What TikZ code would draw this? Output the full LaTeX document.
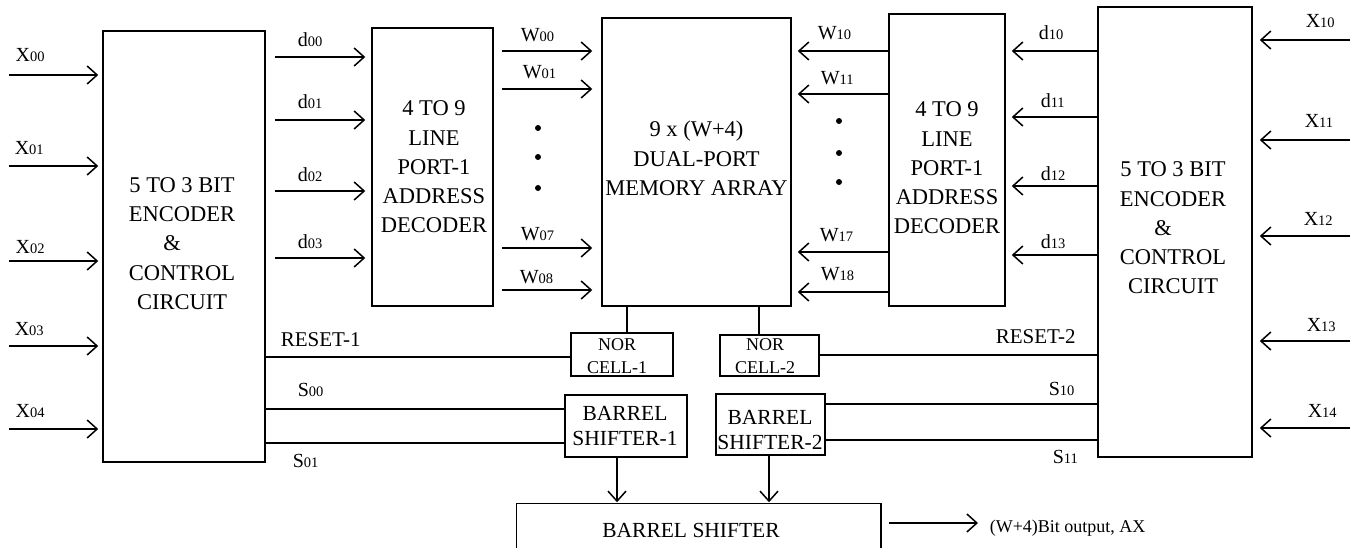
\documentclass[tikz,border=0pt]{standalone}
\usepackage{fontspec}
\setmainfont{Liberation Serif}
\usetikzlibrary{arrows.meta}
% signal name with a small index set on the baseline
\newcommand\sigsub[2]{#1{\fontsize{14.5}{14.5}\selectfont #2}}
\begin{document}
\begin{tikzpicture}[x=1pt,y=-1pt,line width=1.5pt,
  box/.style={draw,rectangle,inner sep=0pt},
  bigtext/.style={font=\fontsize{22.5}{29.25}\selectfont,align=center,inner sep=0pt},
  midtext/.style={font=\fontsize{21.5}{25.5}\selectfont,align=center,inner sep=0pt},
  nortext/.style={font=\fontsize{18}{23}\selectfont,align=center,inner sep=0pt},
  sig/.style={font=\fontsize{20}{20}\selectfont,anchor=base west,inner sep=0pt},
  ctl/.style={font=\fontsize{21}{21}\selectfont,anchor=base west,inner sep=0pt},
  arr/.style={-{Straight Barb[length=10pt,width=18pt]}}]
\useasboundingbox (0,0) rectangle (1356,548);

% ---- blocks ----
\node[box,minimum width=162pt,minimum height=431pt,
  label={[bigtext,xshift=-2pt,yshift=3pt]center:{5 TO 3 BIT\\ENCODER\\\hspace*{-20pt}\&\\CONTROL\\CIRCUIT}}]
  (enc1) at (184,246.5) {};
\node[box,minimum width=121pt,minimum height=278pt,
  label={[bigtext,xshift=1.5pt]center:{4 TO 9\\LINE\\PORT-1\\ADDRESS\\DECODER}}]
  (dec1) at (432.5,167) {};
\node[box,minimum width=189pt,minimum height=288pt,
  label={[bigtext,yshift=3.5pt]center:{9 x (W+4)\\DUAL-PORT\\MEMORY ARRAY}}]
  (mem) at (696.5,162) {};
\node[box,minimum width=116pt,minimum height=292pt,
  label={[bigtext,yshift=-8pt]center:{4 TO 9\\LINE\\PORT-1\\ADDRESS\\DECODER}}]
  (dec2) at (947,160) {};
\node[box,minimum width=154pt,minimum height=450pt,
  label={[bigtext,xshift=-2pt,yshift=4pt]center:{5 TO 3 BIT\\ENCODER\\\hspace*{-20pt}\&\\CONTROL\\CIRCUIT}}]
  (enc2) at (1175,232) {};
\node[box,minimum width=102pt,minimum height=43pt,
  label={[nortext,xshift=-5pt,yshift=-2pt]center:{NOR\\CELL-1}}]
  (nor1) at (622,354.5) {};
\node[box,minimum width=99pt,minimum height=41pt,
  label={[nortext,xshift=-4.5pt,yshift=-1pt]center:{NOR\\CELL-2}}]
  (nor2) at (769.5,355.5) {};
\node[box,minimum width=122pt,minimum height=62pt,
  label={[midtext,xshift=-1pt]center:{BARREL\\SHIFTER-1}}]
  (bs1) at (626,426) {};
\node[box,minimum width=109pt,minimum height=61pt,
  label={[midtext,xshift=-0.5pt,yshift=-5.5pt]center:{BARREL\\SHIFTER-2}}]
  (bs2) at (770.5,424.5) {};
\node[minimum width=363pt,minimum height=44pt,inner sep=0pt,
  label={[midtext,xshift=-7.5pt,yshift=-4pt]center:{BARREL SHIFTER}}]
  (bs) at (698.5,526) {};
\draw (bs.south west) -- (bs.north west) -- (bs.north east) -- (bs.south east);

% ---- free ends of the input and output arrows ----
\foreach \i/\yy in {0/75,1/166,2/261,3/346,4/429}
  \coordinate (xin\i) at (9,\yy);
\foreach \i/\yy in {0/40,1/140,2/236,3/341,4/428}
  \coordinate (xrin\i) at (1350,\yy);
\coordinate (outtip) at (978,523);

% ---- connectors, left half ----
\foreach \i in {0,...,4}
  \draw[arr,shorten >=4pt] (xin\i) -- (enc1.west |- xin\i);
\foreach \yy in {57,120,191,258}
  \draw[arr,shorten <=9pt,shorten >=6pt] (enc1.east |- 0,\yy) -- (dec1.west |- 0,\yy);
\foreach \yy in {51,89,248,290}
  \draw[arr,shorten <=8pt,shorten >=9pt] (dec1.east |- 0,\yy) -- (mem.west |- 0,\yy);
\draw (enc1.east |- 0,357) -- (nor1.west |- 0,357);
\draw (enc1.east |- 0,409) -- (bs1.west |- 0,409);
\draw (enc1.east |- 0,443) -- (bs1.west |- 0,443);
\draw (mem.south -| 627,0) -- (nor1.north -| 627,0);
\draw[arr,shorten >=1pt] (bs1.south -| 617,0) -- (bs.north -| 617,0);

% ---- connectors, right half ----
\foreach \i in {0,...,4}
  \draw[arr,shorten >=7pt] (xrin\i) -- (enc2.east |- xrin\i);
\foreach \yy in {51,117,186,255}
  \draw[arr,shorten >=6pt] (enc2.west |- 0,\yy) -- (dec2.east |- 0,\yy);
\foreach \yy in {51,94,252,292}
  \draw[arr,shorten >=6pt] (dec2.west |- 0,\yy) -- (mem.east |- 0,\yy);
\draw (nor2.east |- 0,355) -- (enc2.west |- 0,355);
\draw (bs2.east |- 0,404) -- (enc2.west |- 0,404);
\draw (bs2.east |- 0,440) -- (enc2.west |- 0,440);
\draw (mem.south -| 759,0) -- (nor2.north -| 759,0);
\draw[arr,shorten >=1pt] (bs2.south -| 769,0) -- (bs.north -| 769,0);

% ---- output ----
\draw[arr,shorten <=8pt] (bs.east |- outtip) -- (outtip);
\node[font=\fontsize{18}{18}\selectfont,anchor=base west,inner sep=0pt] (outlbl) at (989,532) {(W+4)Bit output, AX};

% ---- omitted word lines ----
\foreach \yy in {128,157,188} \fill (538,\yy) circle[radius=3pt];
\foreach \yy in {121,153,182} \fill (839,\yy) circle[radius=3pt];

% ---- signal names ----
\node[sig] (lx00) at (15,62)  {\sigsub{X}{00}};
\node[sig] (lx01) at (14,155) {\sigsub{X}{01}};
\node[sig] (lx02) at (15,253) {\sigsub{X}{02}};
\node[sig] (lx03) at (14,335) {\sigsub{X}{03}};
\node[sig] (lx04) at (15,417) {\sigsub{X}{04}};
\node[sig] (ld00) at (297,47)  {\sigsub{d}{00}};
\node[sig] (ld01) at (297,109) {\sigsub{d}{01}};
\node[sig] (ld02) at (297,182) {\sigsub{d}{02}};
\node[sig] (ld03) at (297,248) {\sigsub{d}{03}};
\node[ctl] (lreset1) at (280,346) {RESET-1};
\node[sig] (ls00) at (297,396) {\sigsub{S}{00}};
\node[sig] (ls01) at (292,467) {\sigsub{S}{01}};
\node[sig] (lw00) at (520,42)  {\sigsub{W}{00}};
\node[sig] (lw01) at (522,79)  {\sigsub{W}{01}};
\node[sig] (lw07) at (520,240) {\sigsub{W}{07}};
\node[sig] (lw08) at (519,283) {\sigsub{W}{08}};
\node[sig] (lw10) at (817,40)  {\sigsub{W}{10}};
\node[sig] (lw11) at (820,85)  {\sigsub{W}{11}};
\node[sig] (lw17) at (819,241) {\sigsub{W}{17}};
\node[sig] (lw18) at (820,280) {\sigsub{W}{18}};
\node[sig] (ld10) at (1038,40)  {\sigsub{d}{10}};
\node[sig] (ld11) at (1040,108) {\sigsub{d}{11}};
\node[sig] (ld12) at (1040,180) {\sigsub{d}{12}};
\node[sig] (ld13) at (1040,248) {\sigsub{d}{13}};
\node[sig] (lx10) at (1305,28)  {\sigsub{X}{10}};
\node[sig] (lx11) at (1304,128) {\sigsub{X}{11}};
\node[sig] (lx12) at (1303,225) {\sigsub{X}{12}};
\node[sig] (lx13) at (1306,331) {\sigsub{X}{13}};
\node[sig] (lx14) at (1307,417) {\sigsub{X}{14}};
\node[ctl] (lreset2) at (995,343) {RESET-2};
\node[sig] (ls10) at (1048,395) {\sigsub{S}{10}};
\node[sig] (ls11) at (1052,463) {\sigsub{S}{11}};
\end{tikzpicture}
\end{document}
